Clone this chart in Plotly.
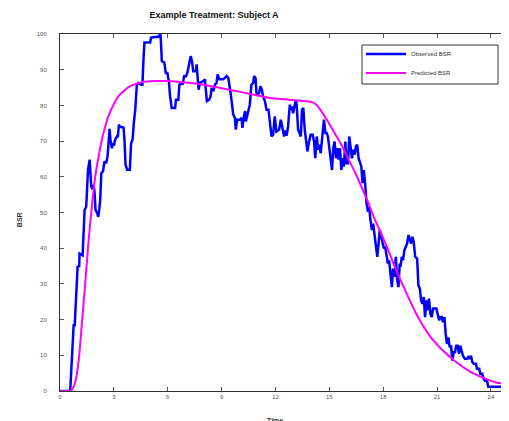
import plotly.graph_objects as go

# Observed BSR (time, value)
obs_t = [0, 0.57, 0.62, 0.76, 0.82, 0.9, 0.98, 1.07, 1.09, 1.26, 1.37, 1.46, 1.56, 1.65, 1.74, 1.81, 1.87, 1.92,
         1.98, 2.07, 2.13, 2.19, 2.24, 2.3, 2.39, 2.48, 2.57, 2.65, 2.7, 2.76, 2.81, 2.89, 2.94, 3.0, 3.07, 3.17,
         3.22, 3.28, 3.35, 3.44, 3.54, 3.59, 3.65, 3.74, 3.89, 3.96, 4.04, 4.11, 4.19, 4.28, 4.37, 4.52, 4.59,
         4.65, 4.7, 5.02, 5.07, 5.52, 5.59, 5.63, 5.67, 5.81, 5.89, 5.98, 6.07, 6.13, 6.22, 6.41, 6.46, 6.59,
         6.65, 6.78, 6.83, 6.91, 7.02, 7.09, 7.16, 7.28, 7.35, 7.42, 7.57, 7.61, 7.66, 7.72, 7.79, 7.98, 8.07,
         8.13, 8.18, 8.31, 8.39, 8.44, 8.54, 8.63, 8.72, 8.78, 8.87, 9.09, 9.18, 9.28, 9.37, 9.42, 9.5, 9.57,
         9.65, 9.74, 9.79, 9.87, 10.02, 10.11, 10.16, 10.24, 10.31, 10.35, 10.42, 10.5, 10.57, 10.66, 10.76,
         10.81, 10.89, 10.94, 11.0, 11.09, 11.16, 11.24, 11.31, 11.41, 11.5, 11.61, 11.68, 11.78, 11.87, 11.96,
         12.05, 12.2, 12.3, 12.39, 12.48, 12.55, 12.62, 12.7, 12.8, 12.85, 12.92, 12.98, 13.04, 13.13, 13.18,
         13.26, 13.33, 13.41, 13.48, 13.55, 13.63, 13.7, 13.78, 13.85, 13.96, 14.07, 14.15, 14.22, 14.3, 14.37,
         14.44, 14.52, 14.59, 14.67, 14.7, 14.78, 14.85, 14.92, 15.0, 15.07, 15.15, 15.22, 15.29, 15.37, 15.44,
         15.52, 15.59, 15.67, 15.74, 15.81, 15.89, 15.96, 16.04, 16.11, 16.18, 16.26, 16.33, 16.41, 16.48,
         16.55, 16.63, 16.7, 16.78, 16.85, 16.92, 17.0, 17.07, 17.15, 17.22, 17.29, 17.37, 17.44, 17.52, 17.59,
         17.67, 17.74, 17.81, 17.89, 17.96, 18.04, 18.11, 18.18, 18.26, 18.33, 18.41, 18.48, 18.55, 18.63,
         18.7, 18.78, 18.85, 18.92, 18.96, 19.04, 19.1, 19.18, 19.26, 19.33, 19.41, 19.48, 19.55, 19.63, 19.7,
         19.78, 19.89, 19.96, 20.04, 20.11, 20.18, 20.26, 20.33, 20.41, 20.48, 20.55, 20.63, 20.7, 20.78,
         20.96, 21.04, 21.11, 21.18, 21.26, 21.33, 21.41, 21.48, 21.55, 21.63, 21.7, 21.78, 21.85, 21.93, 22.0,
         22.07, 22.15, 22.22, 22.3, 22.37, 22.44, 22.55, 22.66, 22.74, 22.81, 22.89, 22.96, 23.04, 23.17,
         23.22, 23.35, 23.41, 23.52, 23.59, 23.67, 23.78, 23.85, 24.95]
obs_v = [0, 0, 5, 18.4, 18.4, 27, 34.8, 35, 38.5, 38, 50.7, 51.6, 62, 64.8, 57.3, 56.5, 57.7, 55.9,
         50.7, 49.8, 48.8, 51, 53.5, 61, 61.5, 64.3, 63.8, 65.7, 69, 73.4, 70.4, 68, 69.4, 68.7, 70.4, 71.3,
         71.1, 74.6, 74, 74, 73.8, 70.4, 63.4, 62, 62, 69.4, 70.4, 75, 78.8, 85.8, 86.3, 85.8, 85.8,
         92.9, 97.6, 97.6, 99, 99.3, 100.5, 97, 92.4, 92, 89.1, 89.1, 86.3, 82.6, 79.3, 79.3, 81.6, 81.6,
         85.8, 86.3, 85.8, 88.2, 88.2, 89.1, 91, 93.8, 92.4, 89.6, 89.6, 91.5, 88.2, 84.4, 86.3, 86.8, 87.3,
         83.5, 81.2, 81.6, 82.6, 84.9, 84, 85.8, 86.3, 88.7, 87.3, 87.3, 87.7, 88.2, 87.7, 86.3, 83.5, 80.7,
         77.4, 76.5, 73.2, 76, 76, 76.5, 73.7, 76.9, 78.4, 75.5, 76.9, 79.3, 80.2, 85.8, 86.3,
         88.2, 87.7, 83.5, 83, 83.5, 85.4, 84.4, 82.6, 81.2, 78.8, 78.8, 75, 71.3, 71.8, 76.9,
         72.7, 73.2, 76, 73.2, 71.3, 73, 71.5, 74, 80.2, 78.8, 79.7, 77.8, 79.3, 81.6, 80.2,
         73.2, 72.3, 71.3, 78.8, 79.3, 73.2, 70.4, 67.1, 69.4, 71.8, 71.8, 69.9, 65.2, 71.3, 67.6,
         69, 66.6, 70.4, 72.7, 76, 72.3, 72.3, 71.3, 67.6, 64.3, 61.9, 68, 69.9, 65.2, 68,
         64.8, 68, 61.9, 65.2, 62.9, 69.9, 63.8, 63.8, 71.3, 68.5, 65.2, 67.6, 66.2, 68.5,
         69, 65.2, 63.8, 62.9, 58.2, 61.9, 57.7, 52.6, 50.2, 51.6, 47.9, 45.1, 46.9, 44.1, 40.4,
         37.6, 41.3, 45.1, 43.2, 41.3, 39.9, 40.4, 38.5, 35.7, 36.6, 33.4, 29.1, 34.3, 32,
         37.6, 31, 29.1, 35.7, 34.8, 37.6, 36.6, 39.5, 40.4, 41.3, 43.7, 42.7, 41.3, 43.2, 41.8,
         37.6, 37.1, 29.6, 28.6, 25.4, 24.4, 26.3, 20.7, 25.4, 22.6, 25.9, 21.6, 20.7, 23.1,
         23.1, 20.7, 19.8, 20.7, 20.7, 19.3, 20.7, 16, 13.2, 15, 12.3, 12.7, 8.5, 10.9, 10.9,
         12.7, 12.7, 10.4, 12.7, 11.2, 9.9, 9, 9, 9.5, 9, 9.9, 8.1, 7.6, 7.6,
         6.2, 6.2, 4.8, 4.8, 3.4, 2.9, 2.9, 1.2, 1.2]

# Predicted BSR (time, value)
pred_t = [0, 0.57, 0.7, 0.85, 1.04, 1.22, 1.41, 1.59, 1.78, 1.96, 2.15, 2.33, 2.52, 2.7, 2.98, 3.26, 3.63,
          4.0, 4.56, 5.3, 6.04, 7.0, 7.98, 9.83, 11.68, 12.76, 13.44, 14.0, 14.28, 14.55, 14.92, 15.29,
          15.67, 16.04, 16.41, 16.78, 17.15, 17.52, 17.85, 18.35, 18.63, 19.09, 19.83, 20.57, 21.31, 22.06,
          22.79, 23.53, 24.28, 24.92]
pred_v = [0, 0, 0.6, 2.5, 8.5, 19, 30.5, 42, 52, 60, 65.7, 70.4, 74.1, 77, 80.2, 82.6, 84.4,
          85.6, 86.5, 86.8, 86.8, 86.4, 85.8, 84, 82.1, 81.6, 81.3, 81, 80.2, 78.4, 75.5, 72.3,
          69, 65.2, 61.5, 57.3, 53, 48.2, 44.6, 38.6, 35, 29.7, 21.7, 15.6, 11.4, 8.1,
          5.6, 3.8, 2.4, 1.9]

x_ticks = [0, 3, 6, 9, 12, 15, 18, 21, 24]
y_ticks = [0, 10, 20, 30, 40, 50, 60, 70, 80, 90, 100]

FONT = "Liberation Sans, Arial, sans-serif"

# page has an 8px body margin, so the figure is sized to fit the window
W, H = 501, 413
PL, PT, PW, PH = 60, 34, 448, 357  # plot area in window pixels


def px_x(p):
    return (p - PL) / PW


def px_y(p):
    return (PT + PH - p) / PH


fig = go.Figure()
fig.add_trace(go.Scatter(x=obs_t, y=obs_v, mode="lines", name="Observed BSR",
                         line=dict(color="#0000FF", width=2.5)))
fig.add_trace(go.Scatter(x=pred_t, y=pred_v, mode="lines", name="Predicted BSR",
                         line=dict(color="#FF00FF", width=2, shape="spline", smoothing=0.6)))

axis_common = dict(showline=True, linecolor="#333333", linewidth=1, mirror="ticks",
                   ticks="inside", ticklen=4, tickcolor="#555555", showgrid=False, zeroline=False,
                   tickfont=dict(family=FONT, size=6, color="#555555"))

fig.update_layout(
    width=W, height=H,
    margin=dict(l=PL - 8, r=W + 8 - PL - PW, t=PT - 8, b=H + 8 - PT - PH, autoexpand=False),
    paper_bgcolor="white", plot_bgcolor="white",
    font=dict(family=FONT),
    title=dict(text="Example Treatment: Subject A", x=(214 - 8) / W, xref="container", xanchor="center",
               y=1 - (15 - 8) / H, yref="container", yanchor="middle",
               font=dict(family=FONT, size=9, color="#111111", weight="bold")),
    xaxis=dict(range=[0, 24.95], tickvals=x_ticks, ticktext=[str(v) for v in x_ticks], **axis_common),
    yaxis=dict(range=[0, 100], tickvals=y_ticks, ticktext=[str(v) for v in y_ticks],
               ticklabelstandoff=11, **axis_common),
    showlegend=True,
    legend=dict(x=px_x(361), y=px_y(39.5), xanchor="left", yanchor="top", bgcolor="rgba(0,0,0,0)",
                borderwidth=0, font=dict(family=FONT, size=6, color="#333333"),
                itemwidth=40, tracegroupgap=0),
    shapes=[dict(type="rect", xref="paper", yref="paper",
                 x0=px_x(362), x1=px_x(498), y0=px_y(84), y1=px_y(45),
                 line=dict(color="#333333", width=1), fillcolor="rgba(0,0,0,0)")],
    annotations=[
        dict(text="Time", x=12, xref="x", y=0, yref="paper", yshift=-29, yanchor="middle",
             showarrow=False, font=dict(family=FONT, size=7, color="#333333", weight="bold")),
        dict(text="BSR", x=0, xref="paper", xshift=-46, y=48, yref="y", textangle=-90,
             showarrow=False, font=dict(family=FONT, size=7, color="#333333", weight="bold")),
    ],
)

fig.write_html("out.html")
